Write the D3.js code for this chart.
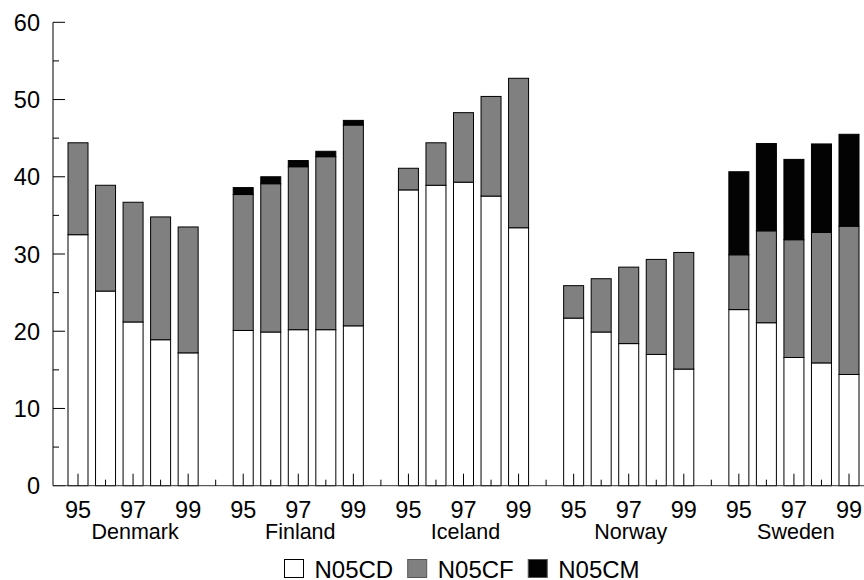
<!DOCTYPE html>
<html>
<head>
<meta charset="utf-8">
<script src="https://cdn.jsdelivr.net/npm/d3@7"></script>
<style>
  html, body { margin: 0; padding: 0; background: #fff; }
  svg { display: block; }
  text { font-family: Arial, "Liberation Sans", sans-serif; fill: #000; }
</style>
</head>
<body>
<svg id="chart" width="864" height="580"></svg>
<script>
// ---- Data ----
const countries = ["Denmark", "Finland", "Iceland", "Norway", "Sweden"];
const years = ["95", "96", "97", "98", "99"];
const labeledYears = ["95", "97", "99"];
const seriesNames = ["N05CD", "N05CF", "N05CM"];
const seriesColors = ["#ffffff", "#808080", "#030303"];
const yTicks = [0, 10, 20, 30, 40, 50, 60];

// values per country, per year (95..99)
const N05CD = {
  Denmark: [32.5, 25.2, 21.2, 18.9, 17.2],
  Finland: [20.1, 19.9, 20.2, 20.2, 20.7],
  Iceland: [38.3, 38.9, 39.3, 37.5, 33.4],
  Norway:  [21.7, 19.9, 18.4, 17.0, 15.1],
  Sweden:  [22.8, 21.1, 16.6, 15.9, 14.4]
};
const N05CF = {
  Denmark: [11.9, 13.7, 15.5, 15.9, 16.3],
  Finland: [17.6, 19.2, 21.1, 22.4, 26.0],
  Iceland: [2.8, 5.5, 9.0, 12.9, 19.35],
  Norway:  [4.2, 6.9, 9.9, 12.3, 15.1],
  Sweden:  [7.1, 11.9, 15.25, 16.9, 19.2]
};
const N05CM = {
  Denmark: [0, 0, 0, 0, 0],
  Finland: [0.9, 0.9, 0.8, 0.7, 0.6],
  Iceland: [0, 0, 0, 0, 0],
  Norway:  [0, 0, 0, 0, 0],
  Sweden:  [10.75, 11.3, 10.4, 11.45, 11.9]
};
const seriesData = [N05CD, N05CF, N05CM];

// ---- Build slots (5 bars + 1 gap per country) ----
const slots = [];
countries.forEach((c, ci) => {
  years.forEach(yr => slots.push({ key: c + "-" + yr, country: c, year: yr, gap: false }));
  if (ci < countries.length - 1) slots.push({ key: "gap-" + c, gap: true });
});

const svg = d3.select("#chart");

const x = d3.scalePoint().domain(slots.map(s => s.key)).range([78, 849]);
const y = d3.scaleLinear().domain([0, 60]).range([485.7, 22.3]);

const axisX0 = 53;
const barW = 20;

// ---- Bars ----
const rows = [];
slots.filter(s => !s.gap).forEach(s => {
  const yi = years.indexOf(s.year);
  let base = 0;
  seriesData.forEach((sd, si) => {
    const v = sd[s.country][yi];
    if (v > 0) rows.push({ key: s.key, y0: base, y1: base + v, si });
    base += v;
  });
});

svg.append("g").selectAll("rect").data(rows).join("rect")
  .attr("x", d => x(d.key) - barW / 2)
  .attr("width", barW)
  .attr("y", d => y(d.y1))
  .attr("height", d => y(d.y0) - y(d.y1))
  .attr("fill", d => seriesColors[d.si])
  .attr("stroke", "#000")
  .attr("stroke-width", 1);

// ---- Y axis ----
const yAxisG = svg.append("g");
yAxisG.append("line")
  .attr("x1", axisX0).attr("x2", axisX0)
  .attr("y1", y(60)).attr("y2", y(0))
  .attr("stroke", "#000").attr("stroke-width", 1);
const minorTicks = d3.range(5, 60, 10);
yAxisG.selectAll("line.major").data(yTicks).join("line").attr("class", "major")
  .attr("x1", axisX0).attr("x2", axisX0 + 12)
  .attr("y1", d => y(d)).attr("y2", d => y(d))
  .attr("stroke", "#000").attr("stroke-width", 1);
yAxisG.selectAll("line.minor").data(minorTicks).join("line").attr("class", "minor")
  .attr("x1", axisX0).attr("x2", axisX0 + 6)
  .attr("y1", d => y(d)).attr("y2", d => y(d))
  .attr("stroke", "#000").attr("stroke-width", 1);
yAxisG.selectAll("text").data(yTicks).join("text")
  .attr("x", 40)
  .attr("y", d => y(d) + 8.5)
  .attr("text-anchor", "end")
  .attr("font-size", "23.5px")
  .text(d => d);

// ---- X axis ----
const xAxisG = svg.append("g");
xAxisG.append("line")
  .attr("x1", axisX0).attr("x2", 864)
  .attr("y1", y(0)).attr("y2", y(0))
  .attr("stroke", "#333").attr("stroke-width", 1);
xAxisG.selectAll("line.tick").data(slots).join("line").attr("class", "tick")
  .attr("x1", d => x(d.key)).attr("x2", d => x(d.key))
  .attr("y1", y(0))
  .attr("y2", d => y(0) - ((!d.gap && labeledYears.includes(d.year)) ? 12 : 6))
  .attr("stroke", "#000").attr("stroke-width", 1);

xAxisG.selectAll("text.year").data(slots.filter(s => !s.gap && labeledYears.includes(s.year)))
  .join("text").attr("class", "year")
  .attr("x", d => x(d.key))
  .attr("y", 518)
  .attr("text-anchor", "middle")
  .attr("font-size", "23.5px")
  .text(d => d.year);

xAxisG.selectAll("text.country").data(countries).join("text").attr("class", "country")
  .attr("x", c => x(c + "-97") + 2)
  .attr("y", 538.5)
  .attr("text-anchor", "middle")
  .attr("font-size", "21.5px")
  .text(c => c);

// ---- Legend ----
const legend = svg.append("g");
let lx = 284;
seriesNames.forEach((name, i) => {
  legend.append("rect")
    .attr("x", lx + 0.5).attr("y", 559.5)
    .attr("width", 19).attr("height", 18)
    .attr("fill", seriesColors[i])
    .attr("stroke", i === 0 ? "#000" : "#555")
    .attr("stroke-width", 1);
  const t = legend.append("text")
    .attr("x", lx + 30.5).attr("y", 578)
    .attr("font-size", "24px")
    .text(name);
  const w = t.node().getComputedTextLength();
  lx = lx + 30.5 + w + 14;
});
</script>
</body>
</html>
